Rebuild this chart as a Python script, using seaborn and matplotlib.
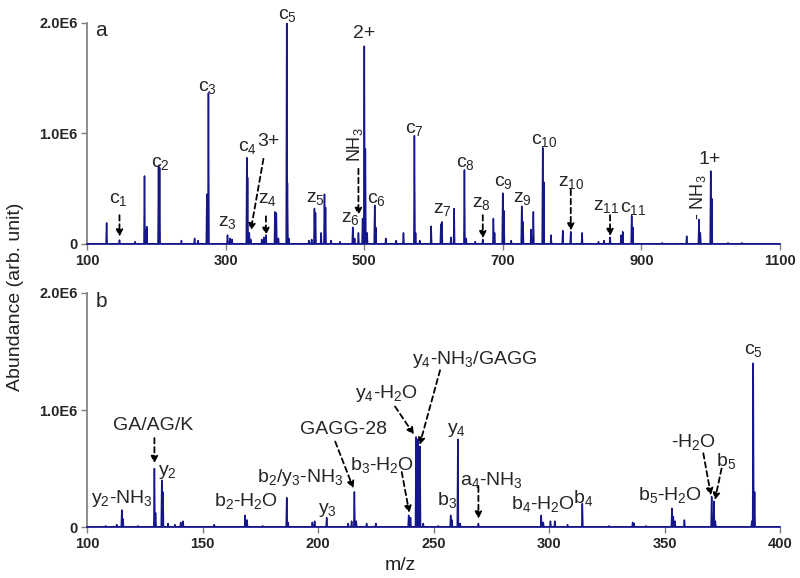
import numpy as np
import pandas as pd
import matplotlib
matplotlib.use("Agg")
import matplotlib.pyplot as plt
import seaborn as sns

# ---------------- data (m/z, abundance in units of 1E6) ----------------
mz_a = [128, 146.6, 169, 182.7, 184.5, 186, 203, 204.5, 236, 255, 260, 272.7, 275,
        302.5, 306, 309, 330.4, 331.5, 334, 336, 352, 355, 358, 371, 373, 376,
        388, 389, 391, 420, 424, 428, 429.5, 437.6, 442.5, 444, 452, 465,
        483.3, 486, 491.5, 497.5, 500, 501.5, 504, 515, 516.5, 531, 546, 556.5,
        572.3, 574, 580, 596.4, 610.5, 612, 625, 629.6, 644.5, 647, 660, 671,
        686.3, 688, 699.8, 701.5, 712, 727.2, 729, 740.7, 744, 757.5, 759,
        769.5, 786.4, 797.9, 814.3, 838, 846, 854.7, 870.6, 873, 885.9, 887.5,
        930, 965.3, 983, 985, 1000, 1001.5, 1025, 1045]
ab_a = [0.19, 0.035, 0.02, 0.615, 0.13, 0.156, 0.71, 0.69, 0.03, 0.05, 0.03, 0.45, 1.366,
        0.08, 0.05, 0.04, 0.78, 0.6, 0.1, 0.04, 0.04, 0.06, 0.08, 0.29, 0.28, 0.05,
        2.0, 0.55, 0.05, 0.03, 0.04, 0.32, 0.28, 0.1, 0.45, 0.33, 0.03, 0.02,
        0.15, 0.05, 0.1, 0.23, 1.79, 0.86, 0.1, 0.35, 0.15, 0.05, 0.03, 0.1,
        0.98, 0.1, 0.03, 0.16, 0.18, 0.2, 0.06, 0.32, 0.67, 0.05, 0.02, 0.04,
        0.23, 0.1, 0.46, 0.3, 0.03, 0.34, 0.2, 0.13, 0.29, 0.87, 0.56,
        0.08, 0.12, 0.11, 0.1, 0.02, 0.03, 0.06, 0.08, 0.11, 0.255, 0.15,
        0.01, 0.07, 0.22, 0.1, 0.66, 0.41, 0.01, 0.01]

mz_b = [108, 112.8, 115, 115.5, 122, 129.1, 129.6, 132.3, 132.8, 135, 138, 140.5, 141.5,
        155, 168.4, 169.2, 176, 186.4, 187, 197.5, 198.5, 203.7, 213, 214.5, 215.7,
        216.5, 221, 225, 239.2, 240, 242.4, 243.2, 244.1, 245.5, 252, 257.4, 257.9,
        260.5, 261.5, 269.4, 296.6, 297.5, 300.6, 302.5, 308, 314.4, 326, 336.2,
        336.8, 342, 353.2, 353.8, 354.5, 358.6, 370.4, 371.4, 372, 387.8, 388.4, 389]
ab_b = [0.01, 0.02, 0.145, 0.07, 0.01, 0.50, 0.12, 0.40, 0.3, 0.03, 0.02, 0.04, 0.05,
        0.02, 0.1, 0.06, 0.01, 0.25, 0.04, 0.04, 0.05, 0.08, 0.03, 0.05, 0.3,
        0.05, 0.03, 0.03, 0.1, 0.08, 0.77, 0.75, 0.69, 0.03, 0.01, 0.1, 0.06,
        0.75, 0.03, 0.03, 0.1, 0.04, 0.05, 0.05, 0.02, 0.2, 0.01, 0.04,
        0.03, 0.01, 0.16, 0.09, 0.05, 0.06, 0.26, 0.22, 0.05, 0.05, 1.40, 0.3]

yticks = [0, 1.0e6, 2.0e6]
ytick_labels = ["0", "1.0E6", "2.0E6"]
xticks_a = [100, 300, 500, 700, 900, 1100]
xticks_b = [100, 150, 200, 250, 300, 350, 400]

# annotations: (text, x, y)  y in 1E6
labels_a = [("c$_1$", 144.7, 0.40), ("c$_2$", 205, 0.73), ("c$_3$", 273, 1.42),
            ("c$_4$", 332, 0.87), ("3+", 362, 0.93), ("z$_3$", 302, 0.19),
            ("z$_4$", 361, 0.40), ("c$_5$", 388.6, 2.07), ("2+", 500, 1.90),
            ("z$_5$", 429, 0.41), ("z$_6$", 479.5, 0.23), ("c$_6$", 517, 0.40),
            ("c$_7$", 573, 1.04), ("z$_7$", 613, 0.31), ("c$_8$", 645.5, 0.73),
            ("z$_8$", 669.5, 0.37), ("c$_9$", 700.8, 0.56), ("z$_9$", 728.7, 0.41),
            ("c$_{10}$", 759.5, 0.94), ("z$_{10}$", 799.4, 0.56), ("z$_{11}$", 849, 0.34),
            ("c$_{11}$", 888, 0.32), ("1+", 999, 0.76)]
rot_labels_a = [("NH$_3$", 487, 0.90), ("- NH$_3$", 981, 0.42)]
arrows_a = [(146.6, 0.26, 146.6, 0.065), (354.4, 0.77, 336, 0.12), (358, 0.25, 358, 0.08),
            (491.5, 0.68, 491.5, 0.26), (671, 0.26, 671, 0.05), (798, 0.49, 798, 0.12),
            (854.7, 0.26, 854.7, 0.07)]

labels_b = [("y$_2$-NH$_3$", 115, 0.245), ("GA/AG/K", 128.7, 0.87), ("y$_2$", 134.9, 0.47),
            ("b$_2$-H$_2$O", 168.8, 0.22), ("b$_2$/y$_3$-NH$_3$", 192.2, 0.42),
            ("y$_3$", 204, 0.145), ("GAGG-28", 211, 0.83), ("b$_3$-H$_2$O", 227.6, 0.53),
            ("y$_4$-H$_2$O", 229.7, 1.14), ("y$_4$-NH$_3$/GAGG", 268, 1.43),
            ("y$_4$", 260, 0.83), ("b$_3$", 255.7, 0.23), ("a$_4$-NH$_3$", 275.2, 0.40),
            ("b$_4$-H$_2$O", 297.5, 0.20), ("b$_4$", 314.8, 0.245), ("b$_5$-H$_2$O", 352.4, 0.27),
            ("-H$_2$O", 362.5, 0.73), ("b$_5$", 376.8, 0.56), ("c$_5$", 388.4, 1.51)]
arrows_b = [(129.1, 0.76, 129.1, 0.545), (207.4, 0.73, 215.3, 0.33), (236.2, 0.47, 239.5, 0.12),
            (233.3, 1.03, 241.5, 0.79), (252.8, 1.34, 243.9, 0.70), (269.4, 0.345, 269.4, 0.07),
            (366.8, 0.63, 370.1, 0.27), (374.7, 0.50, 371.8, 0.23)]

# ---------------- style ----------------
sns.set_theme(style="ticks")
plt.rcParams["font.family"] = ["Liberation Sans", "DejaVu Sans"]
plt.rcParams["mathtext.fontset"] = "custom"
plt.rcParams["mathtext.rm"] = "Liberation Sans"
plt.rcParams["mathtext.it"] = "Liberation Sans"
plt.rcParams["mathtext.bf"] = "Liberation Sans:bold"

NAVY = "#16168c"
GRAY = "#808080"

fig = plt.figure(figsize=(8, 5.78), dpi=100)
ax_a = fig.add_axes([0.109, 0.578, 0.866, 0.3823])
ax_b = fig.add_axes([0.109, 0.0882, 0.866, 0.4049])


def spectrum_frame(mz, ab, hw):
    xs, ys = [], []
    for m, a in sorted(zip(mz, ab)):
        xs += [m - hw, m, m + hw]
        ys += [0.0, a * 1e6, 0.0]
    return pd.DataFrame({"mz": xs, "abundance": ys})


def draw_panel(ax, mz, ab, hw, xlim, xticks, letter, labels, arrows, rot_labels=()):
    df = spectrum_frame(mz, ab, hw)
    ax.axhline(0, color=NAVY, lw=1.3, zorder=2)
    sns.lineplot(data=df, x="mz", y="abundance", ax=ax, color=NAVY, lw=1.1,
                 estimator=None, sort=False, zorder=3)
    ax.set_xlim(*xlim)
    ax.set_ylim(0, 2.0e6)
    ax.set_xticks(xticks)
    ax.set_xticklabels([str(t) for t in xticks])
    ax.set_yticks(yticks)
    ax.set_yticklabels(ytick_labels)
    ax.set_xlabel("")
    ax.set_ylabel("")
    for s in ["top", "right"]:
        ax.spines[s].set_visible(False)
    ax.spines["left"].set_color(GRAY)
    ax.spines["bottom"].set_color(NAVY)
    ax.tick_params(axis="both", direction="out", length=4, width=1, color=GRAY,
                   labelsize=10.5, pad=3)
    for lab in ax.get_xticklabels() + ax.get_yticklabels():
        lab.set_fontweight("bold")
    ax.text(0.012, 0.965, letter, transform=ax.transAxes, fontsize=15,
            ha="left", va="center")
    for t, x, y in labels:
        ax.text(x, y * 1e6, t, fontsize=14, ha="center", va="center", clip_on=False)
    for t, x, y in rot_labels:
        ax.text(x, y * 1e6, t, fontsize=13, ha="center", va="center", rotation=90)
    for x0, y0, x1, y1 in arrows:
        ax.annotate("", xy=(x1, y1 * 1e6), xytext=(x0, y0 * 1e6),
                    arrowprops=dict(arrowstyle="-|>", linestyle=(0, (3, 2)),
                                    color="black", lw=1.3, mutation_scale=10,
                                    shrinkA=0, shrinkB=0))


draw_panel(ax_a, mz_a, ab_a, 0.8, (100, 1100), xticks_a, "a", labels_a, arrows_a, rot_labels_a)
draw_panel(ax_b, mz_b, ab_b, 0.25, (100, 400), xticks_b, "b", labels_b, arrows_b)

fig.text(0.019, 0.487, "Abundance (arb. unit)", rotation=90, fontsize=14,
         ha="center", va="center", color="#222222")
fig.text(0.5, 0.022, "m/z", fontsize=14, ha="center", va="center", color="#222222")

fig.savefig("out.png", dpi=100)
